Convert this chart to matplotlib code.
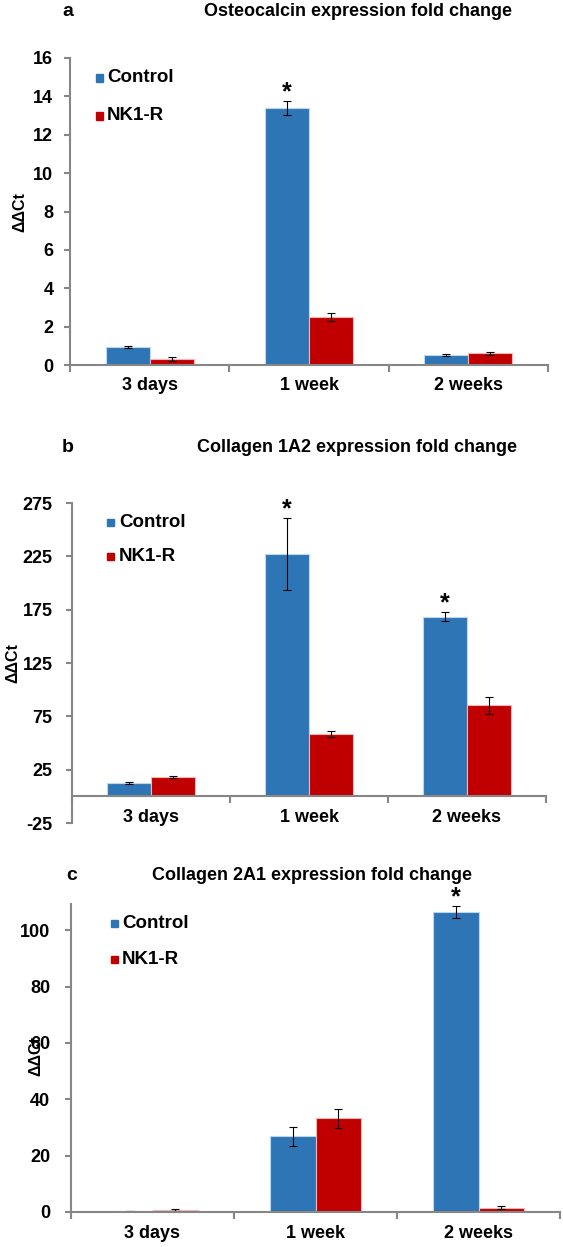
import matplotlib
matplotlib.use("Agg")
import matplotlib.pyplot as plt
import numpy as np
from matplotlib.patches import Rectangle

plt.rcParams['font.family'] = ['Liberation Sans', 'DejaVu Sans']
plt.rcParams['font.weight'] = 'bold'

categories = ["3 days", "1 week", "2 weeks"]
series_names = ["Control", "NK1-R"]

osteo_control = [0.95, 13.4, 0.5]
osteo_control_err = [0.05, 0.35, 0.05]
osteo_nk1r = [0.3, 2.5, 0.6]
osteo_nk1r_err = [0.1, 0.2, 0.1]

col1a2_control = [12.5, 227, 168.5]
col1a2_control_err = [1.0, 34, 4]
col1a2_nk1r = [18, 58.5, 85.5]
col1a2_nk1r_err = [1.0, 3, 8]

col2a1_control = [0.3, 26.8, 106.5]
col2a1_control_err = [0.1, 3.3, 2.0]
col2a1_nk1r = [0.7, 33.2, 1.5]
col2a1_nk1r_err = [0.2, 3.3, 0.6]

titles = ["Osteocalcin expression fold change",
          "Collagen 1A2 expression fold change",
          "Collagen 2A1 expression fold change"]
letters = ["a", "b", "c"]
ylabel = "ΔΔCt"

BLUE = "#2E75B6"
RED = "#C00000"
AXC = "#868686"

fig = plt.figure(figsize=(5.63, 12.47), dpi=100)
W, H = 563.0, 1247.0

def axes_px(left, right, top, bottom):
    return fig.add_axes([left / W, 1 - bottom / H, (right - left) / W, (bottom - top) / H])

panels = [
    dict(box=(70, 548, 58, 365), ylim=(0, 16), yticks=np.arange(0, 17, 2),
         ctrl=osteo_control, ce=osteo_control_err, nk=osteo_nk1r, ne=osteo_nk1r_err,
         stars=[1], title_xy=(358, 12), letter_xy=(68, 12), ylab_xy=(20, 212),
         leg=(99, 78, 116), zero=0, ypad=8),
    dict(box=(72, 546, 503, 823), ylim=(-25, 275), yticks=np.arange(-25, 276, 50),
         ctrl=col1a2_control, ce=col1a2_control_err, nk=col1a2_nk1r, ne=col1a2_nk1r_err,
         stars=[1, 2], title_xy=(357, 448), letter_xy=(68, 448), ylab_xy=(13, 663),
         leg=(111, 522, 556), zero=0, ypad=10),
    dict(box=(71, 560, 904, 1212), ylim=(0, 109.3), yticks=np.arange(0, 101, 20),
         ctrl=col2a1_control, ce=col2a1_control_err, nk=col2a1_nk1r, ne=col2a1_nk1r_err,
         stars=[2], title_xy=(312, 875), letter_xy=(72, 875), ylab_xy=(36, 1056),
         leg=(114, 923, 959), zero=0, ypad=11),
]

x = np.arange(len(categories))
bw = 0.277

for i, p in enumerate(panels):
    l, r, t, b = p['box']
    ax = axes_px(l, r, t, b)
    ax.set_xlim(-0.5, 2.5)
    ax.set_ylim(*p['ylim'])
    ax.bar(x - bw / 2, p['ctrl'], bw, color=BLUE, edgecolor="#BDD7EE", linewidth=0.8,
           yerr=p['ce'], error_kw=dict(ecolor='black', elinewidth=0.8, capsize=3, capthick=0.8))
    ax.bar(x + bw / 2, p['nk'], bw, color=RED, edgecolor="#F4B6B6", linewidth=0.8,
           yerr=p['ne'], error_kw=dict(ecolor='black', elinewidth=0.8, capsize=3, capthick=0.8))
    yr = p['ylim'][1] - p['ylim'][0]
    for s in p['stars']:
        ax.text(x[s] - bw / 2, p['ctrl'][s] + p['ce'][s] - yr * 0.01, "*",
                ha='center', va='bottom', fontsize=18, fontweight='bold')
    for side in ['top', 'right']:
        ax.spines[side].set_visible(False)
    for side in ['left', 'bottom']:
        ax.spines[side].set_color(AXC)
        ax.spines[side].set_linewidth(1.5)
    ax.spines['bottom'].set_position(('data', p['zero']))
    ax.set_yticks(p['yticks'])
    ax.set_yticklabels([str(int(v)) for v in p['yticks']], fontsize=13, fontweight='bold')
    ax.set_xticks(x)
    ax.set_xticklabels(categories, fontsize=13, fontweight='bold')
    ax.set_xticks([-0.5, 0.5, 1.5, 2.5], minor=True)
    ax.tick_params(axis='x', which='major', length=0, pad=9)
    ax.tick_params(axis='x', which='minor', length=5, color=AXC, width=1.5, direction='out')
    ax.tick_params(axis='y', length=4, color=AXC, width=1.5, direction='out', pad=p['ypad'])
    # titles & labels
    fig.text(p['title_xy'][0] / W, 1 - p['title_xy'][1] / H, titles[i], ha='center', va='center',
             fontsize=13, fontweight='bold')
    fig.text(p['letter_xy'][0] / W, 1 - p['letter_xy'][1] / H, letters[i], ha='center', va='center',
             fontsize=14, fontweight='bold')
    fig.text(p['ylab_xy'][0] / W, 1 - p['ylab_xy'][1] / H, ylabel, ha='center', va='center',
             rotation=90, fontsize=11.5, fontweight='bold', family=['Liberation Sans', 'DejaVu Sans'])
    # legend
    lx, ly1, ly2 = p['leg']
    for yy, name, c in [(ly1, series_names[0], BLUE), (ly2, series_names[1], RED)]:
        fig.patches.append(Rectangle(((lx - 3.5) / W, 1 - (yy + 3.5) / H), 7 / W, 7 / H,
                                     transform=fig.transFigure, color=c, figure=fig))
        fig.text((lx + 8) / W, 1 - yy / H, name, ha='left', va='center', fontsize=13.5, fontweight='bold')

fig.savefig("out.png", dpi=100, facecolor='white')
